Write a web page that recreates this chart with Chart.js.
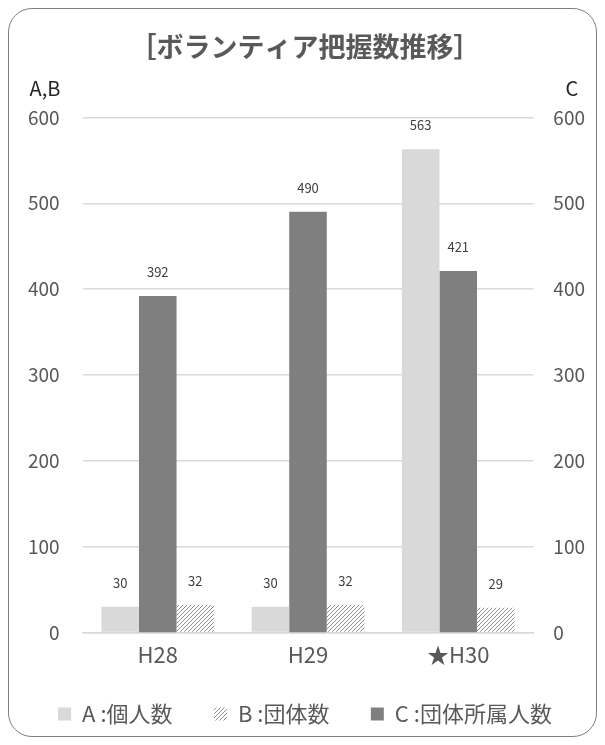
<!DOCTYPE html>
<html>
<head>
<meta charset="utf-8">
<script src="https://cdn.jsdelivr.net/npm/chart.js@4/dist/chart.umd.min.js"></script>
<style>
  body { margin: 0; background: #fff; }
  #wrap { position: relative; width: 605px; height: 745px; }
  #frame {
    position: absolute; left: 8px; top: 8px; width: 587px; height: 727px;
    border: 1.3px solid #7f7f7f; border-radius: 24px; pointer-events: none;
  }
</style>
</head>
<body>
<div id="wrap">
  <canvas id="VolunteerChart" width="605" height="745"></canvas>
  <div id="frame"></div>
</div>
<script>
let years = ['H28', 'H29', '★H30'];
let kojin = [30, 30, 563];      // A
let dantai = [32, 32, 29];      // B
let shozoku = [392, 490, 421];  // C
let yTicks = [0, 100, 200, 300, 400, 500, 600];

let FONT = '"Noto Sans CJK JP", "Noto Sans", sans-serif';

// hatch for B
let makeHatch = () => {
    let c = document.createElement('canvas');
    c.width = 4; c.height = 4;
    let g = c.getContext('2d');
    g.fillStyle = '#ffffff';
    g.fillRect(0, 0, 4, 4);
    g.strokeStyle = '#8c8c8c';
    g.lineWidth = 1;
    g.beginPath();
    g.moveTo(0, 4); g.lineTo(4, 0);
    g.moveTo(-2, 2); g.lineTo(2, -2);
    g.moveTo(2, 6); g.lineTo(6, 2);
    g.stroke();
    return g.createPattern(c, 'repeat');
};
let hatch = makeHatch();

let valueLabels = {
    id: 'valueLabels',
    afterDatasetsDraw(chart) {
        let ctx = chart.ctx;
        ctx.save();
        ctx.font = '13px ' + FONT;
        ctx.fillStyle = '#404040';
        ctx.textAlign = 'center';
        ctx.textBaseline = 'middle';
        chart.data.datasets.forEach((ds, i) => {
            chart.getDatasetMeta(i).data.forEach((bar, j) => {
                ctx.fillText(ds.data[j], bar.x, bar.y - 24);
            });
        });
        ctx.restore();
    }
};

let axisNames = {
    id: 'axisNames',
    afterDraw(chart) {
        let ctx = chart.ctx;
        ctx.save();
        ctx.font = '20px ' + FONT;
        ctx.fillStyle = '#262626';
        ctx.textBaseline = 'middle';
        ctx.textAlign = 'center';
        ctx.fillText('A,B', 45, 88);
        ctx.fillText('C', 572, 88);
        ctx.restore();
    }
};

let legendOrder = ['A', 'B', 'C'];

let chartCtx = document.getElementById('VolunteerChart').getContext('2d');
let volunteer_chart = new Chart(chartCtx, {
    type: 'bar',
    data: {
        labels: years,
        datasets: [{
            label: 'A :個人数',
            data: kojin,
            backgroundColor: '#d9d9d9',
            yAxisID: 'y'
        }, {
            label: 'C :団体所属人数',
            data: shozoku,
            backgroundColor: '#7f7f7f',
            yAxisID: 'y2'
        }, {
            label: 'B :団体数',
            data: dantai,
            backgroundColor: hatch,
            yAxisID: 'y'
        }]
    },
    options: {
        responsive: false,
        animation: false,
        categoryPercentage: 0.75,
        barPercentage: 1.0,
        layout: { padding: { left: 5, right: 0, top: 0, bottom: 10 } },
        plugins: {
            title: {
                display: true,
                text: '［ボランティア把握数推移］',
                color: '#595959',
                font: { family: FONT, size: 27, weight: 'bold' },
                padding: { top: 31, bottom: 54 }
            },
            legend: {
                position: 'bottom',
                labels: {
                    color: '#595959',
                    font: { family: FONT, size: 22 },
                    boxWidth: 13,
                    boxHeight: 13,
                    padding: 26,
                    generateLabels: (chart) => {
                        let items = Chart.defaults.plugins.legend.labels.generateLabels(chart);
                        items.forEach(it => {
                            if (it.text[0] !== 'C') it.text = it.text + '\u2002\u2009';
                        });
                        return items;
                    },
                    sort: (a, b) => legendOrder.indexOf(a.text[0]) - legendOrder.indexOf(b.text[0])
                }
            },
            tooltip: { enabled: false }
        },
        scales: {
            x: {
                grid: { display: false, drawTicks: false },
                border: { color: '#d9d9d9', width: 1.5 },
                ticks: { color: '#595959', font: { family: FONT, size: 22 }, padding: 9 }
            },
            y: {
                position: 'left',
                min: 0, max: 600,
                afterBuildTicks: (axis) => { axis.ticks = yTicks.map(v => ({ value: v })); },
                grid: { color: '#d9d9d9', lineWidth: 1.5, drawTicks: false },
                border: { display: false },
                ticks: { color: '#595959', font: { family: FONT, size: 19 }, padding: 23 }
            },
            y2: {
                position: 'right',
                min: 0, max: 600,
                afterBuildTicks: (axis) => { axis.ticks = yTicks.map(v => ({ value: v })); },
                grid: { display: false, drawTicks: false },
                border: { display: false },
                ticks: { color: '#595959', font: { family: FONT, size: 19 }, padding: 20 }
            }
        }
    },
    plugins: [valueLabels, axisNames]
});
</script>
</body>
</html>
